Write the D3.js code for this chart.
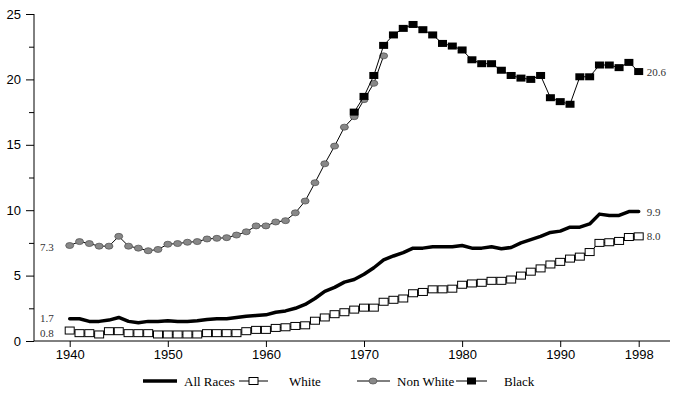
<!DOCTYPE html>
<html>
<head>
<meta charset="utf-8">
<script src="https://cdn.jsdelivr.net/npm/d3@7"></script>
<style>
  body { margin: 0; background: #fff; }
  svg { display: block; }
</style>
</head>
<body>
<script>
// years for each series
var yearsAll = d3.range(1940, 1999);
var yearsNonWhite = d3.range(1940, 1973);
var yearsBlack = d3.range(1969, 1999);

// values
var allRaces = [1.7, 1.7, 1.5, 1.5, 1.6, 1.8, 1.5, 1.4, 1.5, 1.5,
  1.55, 1.5, 1.5, 1.55, 1.65, 1.7, 1.7, 1.8, 1.9, 1.95,
  2.0, 2.2, 2.3, 2.5, 2.8, 3.25, 3.8, 4.1, 4.5, 4.7,
  5.1, 5.6, 6.2, 6.5, 6.75, 7.1, 7.1, 7.2, 7.2, 7.2,
  7.3, 7.1, 7.1, 7.2, 7.05, 7.15, 7.5, 7.75, 8.0, 8.3,
  8.4, 8.7, 8.7, 8.95, 9.7, 9.6, 9.6, 9.9, 9.9];
var white = [0.8, 0.6, 0.6, 0.5, 0.75, 0.75, 0.6, 0.6, 0.6, 0.5,
  0.5, 0.5, 0.5, 0.5, 0.6, 0.6, 0.6, 0.6, 0.75, 0.85,
  0.85, 1.0, 1.05, 1.15, 1.2, 1.55, 1.8, 2.05, 2.2, 2.4,
  2.55, 2.55, 3.0, 3.15, 3.25, 3.65, 3.75, 3.95, 3.95, 4.0,
  4.3, 4.4, 4.45, 4.6, 4.6, 4.7, 5.0, 5.3, 5.55, 5.85,
  6.05, 6.3, 6.45, 6.8, 7.5, 7.55, 7.65, 7.95, 8.0];
var nonWhite = [7.3, 7.6, 7.45, 7.25, 7.25, 8.0, 7.25, 7.1, 6.9, 7.0,
  7.4, 7.45, 7.55, 7.6, 7.8, 7.85, 7.9, 8.1, 8.35, 8.8,
  8.8, 9.1, 9.2, 9.8, 10.7, 12.1, 13.55, 14.9, 16.35, 17.15,
  18.45, 19.7, 21.8];
var black = [17.5, 18.7, 20.3, 22.6, 23.4, 23.9, 24.2, 23.8, 23.4, 22.75,
  22.55, 22.25, 21.5, 21.2, 21.2, 20.7, 20.3, 20.1, 20.0, 20.3,
  18.6, 18.3, 18.1, 20.2, 20.2, 21.1, 21.1, 20.9, 21.3, 20.6];

var xTicks = [1940, 1950, 1960, 1970, 1980, 1990, 1998];
var yTicks = [0, 5, 10, 15, 20, 25];
var yMinorTicks = [2.5, 7.5, 12.5, 17.5, 22.5];

var width = 698, height = 399;
var sans = '"Liberation Sans", Arial, sans-serif';
var serif = '"Liberation Serif", "Times New Roman", serif';

var svg = d3.select('body').append('svg').attr('width', width).attr('height', height);

var x = d3.scaleLinear().domain([1940, 1998]).range([69.7, 638.7]);
var y = d3.scaleLinear().domain([0, 25]).range([341, 14]);

var axisLeftX = 34, axisRightX = 670;

// y axis
var gy = svg.append('g').attr('transform', 'translate(' + axisLeftX + ',0)');
gy.call(d3.axisLeft(y).tickValues(yTicks).tickSize(8).tickSizeOuter(0).tickPadding(5))
  .call(function (g) { g.select('.domain').remove(); });
gy.selectAll('text').style('font-family', sans).style('font-size', '13px').attr('fill', '#000');
svg.append('g').attr('transform', 'translate(' + axisLeftX + ',0)')
  .call(d3.axisLeft(y).tickValues(yMinorTicks).tickSize(5).tickFormat(''))
  .call(function (g) { g.select('.domain').remove(); });
svg.append('line').attr('x1', axisLeftX).attr('x2', axisLeftX)
  .attr('y1', y(25)).attr('y2', y(0)).attr('stroke', '#000');

// x axis
var gx = svg.append('g').attr('transform', 'translate(0,' + y(0) + ')');
gx.call(d3.axisBottom(x).tickValues(xTicks).tickFormat(d3.format('d')).tickSize(6).tickSizeOuter(0).tickPadding(3))
  .call(function (g) { g.select('.domain').remove(); });
gx.selectAll('text').style('font-family', sans).style('font-size', '13px').attr('fill', '#000');
svg.append('line').attr('x1', axisLeftX).attr('x2', axisRightX)
  .attr('y1', y(0)).attr('y2', y(0)).attr('stroke', '#000');

function pairs(years, vals) {
  return years.map(function (yr, i) { return [yr, vals[i]]; });
}
var line = d3.line().x(function (d) { return x(d[0]); }).y(function (d) { return y(d[1]); });

var dWhite = pairs(yearsAll, white);
var dNonWhite = pairs(yearsNonWhite, nonWhite);
var dBlack = pairs(yearsBlack, black);
var dAll = pairs(yearsAll, allRaces);

// white
svg.append('path').datum(dWhite).attr('d', line).attr('fill', 'none').attr('stroke', '#000').attr('stroke-width', 1);
svg.selectAll('rect.white').data(dWhite).enter().append('rect').attr('class', 'white')
  .attr('x', function (d) { return x(d[0]) - 4.5; }).attr('y', function (d) { return y(d[1]) - 3.5; })
  .attr('width', 9).attr('height', 7).attr('fill', '#fff').attr('stroke', '#000').attr('stroke-width', 1);

// non white
svg.append('path').datum(dNonWhite).attr('d', line).attr('fill', 'none').attr('stroke', '#000').attr('stroke-width', 1);
svg.selectAll('ellipse.nw').data(dNonWhite).enter().append('ellipse').attr('class', 'nw')
  .attr('cx', function (d) { return x(d[0]); }).attr('cy', function (d) { return y(d[1]); })
  .attr('rx', 4).attr('ry', 3).attr('fill', '#888').attr('stroke', '#555').attr('stroke-width', 0.8);

// black
svg.append('path').datum(dBlack).attr('d', line).attr('fill', 'none').attr('stroke', '#000').attr('stroke-width', 1);
svg.selectAll('rect.black').data(dBlack).enter().append('rect').attr('class', 'black')
  .attr('x', function (d) { return x(d[0]) - 4.5; }).attr('y', function (d) { return y(d[1]) - 3.5; })
  .attr('width', 9).attr('height', 7).attr('fill', '#000');

// all races
svg.append('path').datum(dAll).attr('d', line).attr('fill', 'none').attr('stroke', '#000')
  .attr('stroke-width', 3.5).attr('stroke-linejoin', 'round').attr('stroke-linecap', 'round');

// end labels
var endLabels = [
  { t: '7.3', yr: 1940, v: nonWhite[0], side: 'left', dy: 5 },
  { t: '1.7', yr: 1940, v: allRaces[0], side: 'left', dy: 3 },
  { t: '0.8', yr: 1940, v: white[0], side: 'left', dy: 6 },
  { t: '9.9', yr: 1998, v: allRaces[allRaces.length - 1], side: 'right', dy: 4 },
  { t: '8.0', yr: 1998, v: white[white.length - 1], side: 'right', dy: 4 },
  { t: '20.6', yr: 1998, v: black[black.length - 1], side: 'right', dy: 4 }
];
svg.selectAll('text.end').data(endLabels).enter().append('text').attr('class', 'end')
  .attr('x', function (d) { return d.side === 'left' ? 40 : x(d.yr) + 8; })
  .attr('y', function (d) { return y(d.v) + d.dy; })
  .style('font-family', serif).style('font-size', '11px').attr('fill', '#333')
  .text(function (d) { return d.t; });

// legend
var legY = 381;
var lg = svg.append('g');
lg.append('line').attr('x1', 143).attr('x2', 177).attr('y1', legY).attr('y2', legY).attr('stroke', '#000').attr('stroke-width', 3.5);
lg.append('line').attr('x1', 239).attr('x2', 268).attr('y1', legY).attr('y2', legY).attr('stroke', '#000');
lg.append('rect').attr('x', 249).attr('y', legY - 3.5).attr('width', 9).attr('height', 7).attr('fill', '#fff').attr('stroke', '#000');
lg.append('line').attr('x1', 357).attr('x2', 390).attr('y1', legY).attr('y2', legY).attr('stroke', '#000');
lg.append('ellipse').attr('cx', 373).attr('cy', legY).attr('rx', 4).attr('ry', 3).attr('fill', '#888').attr('stroke', '#555').attr('stroke-width', 0.8);
lg.append('line').attr('x1', 456).attr('x2', 487).attr('y1', legY).attr('y2', legY).attr('stroke', '#000');
lg.append('rect').attr('x', 467).attr('y', legY - 3.5).attr('width', 9).attr('height', 7).attr('fill', '#000');
var legTexts = [{ t: 'All Races', x: 184 }, { t: 'White', x: 289 }, { t: 'Non White', x: 397 }, { t: 'Black', x: 504 }];
lg.selectAll('text').data(legTexts).enter().append('text')
  .attr('x', function (d) { return d.x; }).attr('y', legY + 4.5)
  .style('font-family', serif).style('font-size', '13px').attr('fill', '#000')
  .text(function (d) { return d.t; });
</script>
</body>
</html>
